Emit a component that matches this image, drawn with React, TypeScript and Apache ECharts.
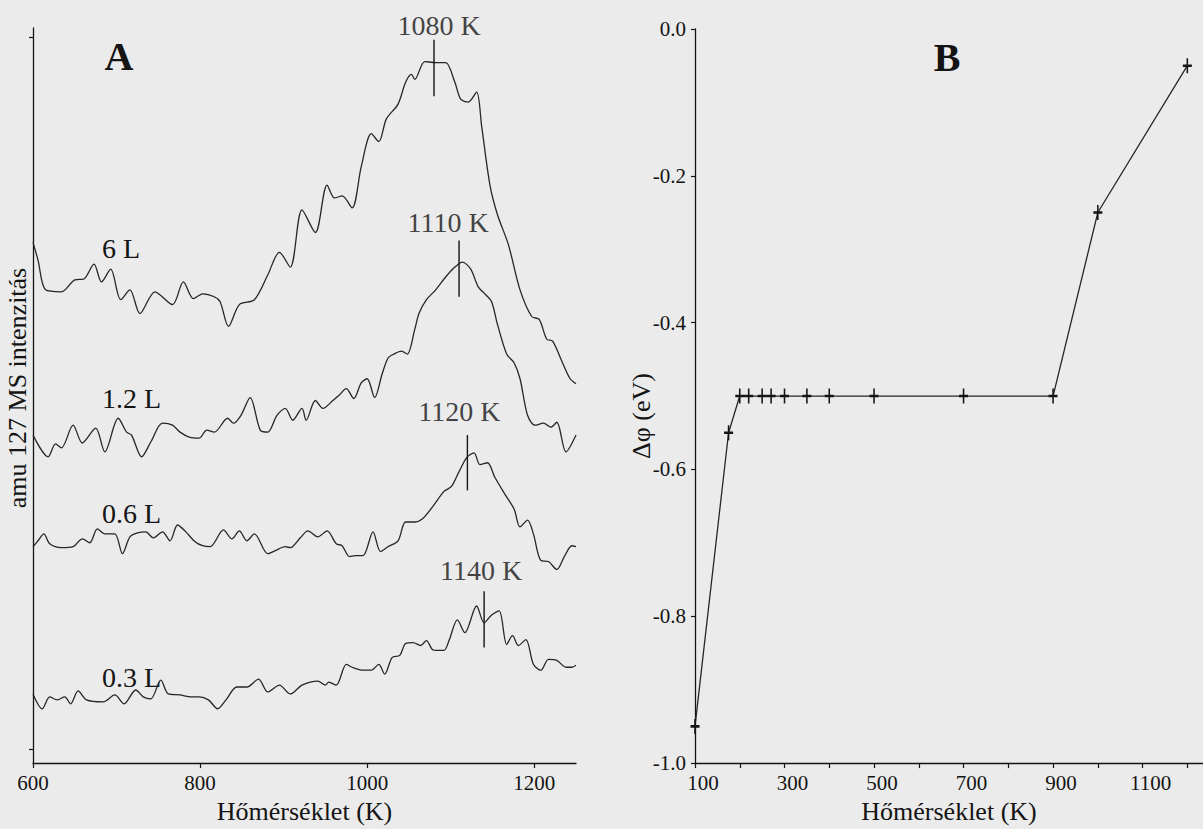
import React, { useEffect, useRef } from "react";
import * as echarts from "echarts";

// ---- Panel A: amu 127 TPD traces, [temperature (K), signal (arb. units, offset per dose)] ----
const trace6L: [number, number][] = [
  [600, 527], [606, 509], [615, 479], [634, 477], [650, 489], [661, 490], [673, 505], [682, 487],
  [693, 500], [705, 469], [716, 479], [728, 455], [746, 477], [767, 464], [780, 487], [792, 470],
  [803, 475], [817, 472], [824, 467], [834, 442], [847, 464], [865, 469], [881, 494], [895, 517],
  [908, 502], [922, 560], [938, 537], [952, 585], [961, 572], [970, 574], [982, 562], [993, 604],
  [1005, 637], [1014, 629], [1023, 652], [1037, 667], [1046, 689], [1053, 697], [1057, 692],
  [1069, 710], [1082, 709], [1094, 709], [1105, 689], [1112, 672], [1121, 669], [1131, 679],
  [1137, 645], [1147, 585], [1156, 555], [1169, 525], [1183, 479], [1197, 452], [1206, 449],
  [1215, 429], [1222, 427], [1234, 405], [1243, 389], [1250, 384],
];

const trace12L: [number, number][] = [
  [600, 332], [618, 310], [627, 323], [634, 319], [648, 342], [659, 324], [675, 339], [686, 315],
  [702, 349], [712, 335], [718, 332], [730, 310], [741, 325], [755, 344], [767, 342], [776, 335],
  [787, 330], [799, 329], [808, 337], [817, 335], [833, 349], [840, 344], [849, 352], [860, 370],
  [872, 337], [881, 335], [892, 352], [902, 359], [911, 347], [922, 359], [927, 347], [938, 367],
  [947, 359], [959, 367], [966, 372], [975, 379], [984, 369], [993, 385], [1000, 389], [1009, 370],
  [1018, 394], [1025, 410], [1032, 414], [1041, 417], [1048, 414], [1057, 439], [1062, 455],
  [1071, 469], [1082, 479], [1094, 492], [1105, 502], [1114, 507], [1124, 500], [1133, 482],
  [1142, 474], [1149, 467], [1156, 444], [1167, 414], [1176, 405], [1183, 389], [1192, 352],
  [1201, 342], [1211, 344], [1220, 340], [1227, 345], [1238, 315], [1250, 332],
];

const trace06L: [number, number][] = [
  [600, 219], [606, 225], [613, 232], [620, 222], [634, 218], [648, 219], [659, 227], [668, 223],
  [677, 237], [686, 232], [698, 232], [707, 212], [716, 229], [725, 233], [735, 234], [744, 228],
  [755, 234], [764, 225], [773, 241], [783, 234], [794, 224], [803, 220], [812, 219], [828, 236],
  [838, 227], [847, 235], [856, 225], [865, 232], [881, 212], [890, 215], [902, 219], [908, 218],
  [920, 228], [929, 235], [941, 229], [952, 235], [963, 222], [970, 220], [979, 209], [986, 210],
  [995, 210], [1007, 234], [1016, 214], [1025, 219], [1037, 225], [1046, 244], [1057, 244],
  [1066, 247], [1078, 259], [1092, 275], [1101, 280], [1110, 295], [1119, 309], [1128, 314],
  [1135, 302], [1144, 304], [1153, 289], [1165, 272], [1176, 257], [1183, 239], [1192, 246],
  [1199, 232], [1208, 205], [1217, 204], [1227, 196], [1236, 209], [1245, 220], [1250, 219],
];

const trace03L: [number, number][] = [
  [600, 70], [611, 55], [620, 67], [629, 64], [638, 67], [645, 60], [654, 73], [664, 64],
  [684, 62], [698, 69], [709, 60], [723, 74], [732, 67], [741, 65], [753, 84], [762, 70],
  [776, 69], [789, 67], [799, 67], [810, 64], [821, 55], [831, 64], [844, 77], [856, 77],
  [870, 85], [881, 72], [895, 79], [908, 70], [922, 79], [941, 83], [950, 79], [954, 82],
  [963, 79], [975, 100], [982, 97], [995, 94], [1005, 94], [1014, 100], [1021, 90], [1030, 107],
  [1039, 109], [1046, 121], [1055, 122], [1064, 119], [1071, 124], [1078, 115], [1085, 114],
  [1092, 114], [1098, 124], [1108, 145], [1117, 132], [1131, 159], [1140, 142], [1149, 150],
  [1158, 154], [1167, 120], [1174, 129], [1181, 119], [1190, 125], [1199, 100], [1208, 94],
  [1217, 105], [1227, 104], [1238, 97], [1245, 97], [1250, 99],
];

const doseLabels = ["6 L", "1.2 L", "0.6 L", "0.3 L"];
const peakTemps = [1080, 1110, 1120, 1140];
const peakTickLow = [675, 472, 276, 117];
const peakTickHigh = [732, 529, 332, 174];

const xTicksA = [600, 800, 1000, 1200];
const yTicksA = [14, 735];

// ---- Panel B: work function change vs. annealing temperature ----
const wfTemps = [100, 175, 200, 220, 250, 270, 300, 350, 400, 500, 700, 900, 1000, 1200];
const wfDelta = [-0.95, -0.55, -0.5, -0.5, -0.5, -0.5, -0.5, -0.5, -0.5, -0.5, -0.5, -0.5, -0.25, -0.05];

const xTicksB = [100, 200, 300, 400, 500, 600, 700, 800, 900, 1000, 1100, 1200];
const xLabelsB = [100, 300, 500, 700, 900, 1100];
const yTicksB = [-1.0, -0.8, -0.6, -0.4, -0.2, 0.0];

// ---- layout ----
const W = 1203;
const H = 829;
const FONT = '"Liberation Serif", "Times New Roman", Times, serif';
const INK = "#141414";
const TRACE = "#262626";
const doseLabelX = 102;
const doseLabelY = [248, 398, 513, 677];
const peakLabelOffset: [number, number][] = [[5, 0], [-11, -3], [-8, -9], [-3, -6]];

export default function App() {
  const ref = useRef<HTMLDivElement>(null);

  useEffect(() => {
    if (!ref.current) return;
    const chart = echarts.init(ref.current, undefined, { renderer: "svg" });

    const axisLine = { show: true, onZero: false, lineStyle: { color: INK, width: 1.3 } };
    const tickStyle = { color: INK, width: 1.2 };
    const tickLabel = { fontFamily: FONT, fontSize: 21, color: INK };
    const titleStyle = { fontFamily: FONT, fontSize: 26, color: INK };
    const plain = (v: number) => String(v);

    const traces = [trace6L, trace12L, trace06L, trace03L];

    const option: echarts.EChartsOption = {
      backgroundColor: "#ebebeb",
      animation: false,
      textStyle: { fontFamily: FONT, color: INK },
      grid: [
        { left: 33, top: 28, width: 543, height: 744 },
        { left: 695, top: 29, width: 508, height: 741 },
      ],
      xAxis: [
        {
          gridIndex: 0,
          type: "value",
          min: 600,
          max: 1250,
          axisLine,
          axisTick: { show: true, length: 5, lineStyle: tickStyle, customValues: xTicksA },
          axisLabel: { ...tickLabel, margin: 9, customValues: xTicksA, formatter: plain },
          splitLine: { show: false },
          name: "Hőmérséklet (K)",
          nameLocation: "middle",
          nameGap: 31,
          nameTextStyle: titleStyle,
        },
        {
          gridIndex: 1,
          type: "value",
          min: 100,
          max: 1235,
          axisLine,
          axisTick: { show: true, length: 5, lineStyle: tickStyle, customValues: xTicksB },
          axisLabel: { ...tickLabel, margin: 9, padding: [0, 0, 0, 16], customValues: xLabelsB, formatter: plain },
          splitLine: { show: false },
          name: "Hőmérséklet (K)",
          nameLocation: "middle",
          nameGap: 31,
          nameTextStyle: titleStyle,
        },
      ],
      yAxis: [
        {
          gridIndex: 0,
          type: "value",
          min: 0,
          max: 744,
          axisLine,
          axisTick: { show: true, length: 4, lineStyle: tickStyle, customValues: yTicksA },
          axisLabel: { show: false },
          splitLine: { show: false },
        },
        {
          gridIndex: 1,
          type: "value",
          min: -1,
          max: 0,
          axisLine,
          axisTick: { show: true, length: 4, lineStyle: tickStyle, customValues: yTicksB },
          axisLabel: {
            ...tickLabel,
            margin: 9,
            customValues: yTicksB,
            formatter: (v: number) => v.toFixed(1),
          },
          splitLine: { show: false },
        },
      ],
      graphic: [
        {
          type: "text",
          x: 119,
          y: 56,
          silent: true,
          style: { text: "A", font: `bold 40px ${FONT}`, fill: INK, align: "center", verticalAlign: "middle" },
        },
        {
          type: "text",
          x: 947,
          y: 57,
          silent: true,
          style: { text: "B", font: `bold 40px ${FONT}`, fill: INK, align: "center", verticalAlign: "middle" },
        },
        ...doseLabels.map((t, i) => ({
          type: "text" as const,
          x: doseLabelX,
          y: doseLabelY[i],
          silent: true,
          style: { text: t, font: `28px ${FONT}`, fill: INK, align: "left" as const, verticalAlign: "middle" as const },
        })),
        {
          type: "text",
          x: 17,
          y: 388,
          rotation: Math.PI / 2,
          silent: true,
          style: { text: "amu 127 MS intenzitás", font: `26px ${FONT}`, fill: INK, align: "center", verticalAlign: "middle" },
        },
        {
          type: "text",
          x: 641,
          y: 416,
          rotation: Math.PI / 2,
          silent: true,
          style: { text: "Δφ (eV)", font: `26px ${FONT}`, fill: INK, align: "center", verticalAlign: "middle" },
        },
      ],
      series: [
        ...traces.map((d, i) => ({
          type: "line" as const,
          name: doseLabels[i],
          xAxisIndex: 0,
          yAxisIndex: 0,
          data: d,
          symbol: "none",
          smooth: 0.3,
          silent: true,
          lineStyle: { color: TRACE, width: 1.3 },
        })),
        ...peakTemps.map((T, i) => ({
          type: "line" as const,
          xAxisIndex: 0,
          yAxisIndex: 0,
          data: [[T, peakTickLow[i]], [T, peakTickHigh[i]]],
          symbol: "none",
          silent: true,
          lineStyle: { color: INK, width: 1.4 },
        })),
        {
          type: "scatter",
          xAxisIndex: 0,
          yAxisIndex: 0,
          symbolSize: 1,
          silent: true,
          itemStyle: { color: "rgba(0,0,0,0)" },
          data: peakTemps.map((T, i) => ({
            value: [T, peakTickHigh[i]],
            label: { offset: peakLabelOffset[i] },
          })),
          label: {
            show: true,
            position: "top",
            distance: 0,
            fontFamily: FONT,
            fontSize: 28,
            color: INK,
            formatter: (p: any) => `${p.value[0]} K`,
          },
        },
        {
          type: "line",
          name: "Δφ",
          xAxisIndex: 1,
          yAxisIndex: 1,
          data: wfTemps.map((t, i) => [t, wfDelta[i]]),
          symbol: "path://M4 0 L4 14 M0 7 L8 7",
          symbolSize: [9, 15],
          silent: true,
          itemStyle: { color: "rgba(0,0,0,0)", borderColor: INK, borderWidth: 2 },
          lineStyle: { color: TRACE, width: 1.3 },
        },
      ],
    };

    chart.setOption(option);
    return () => chart.dispose();
  }, []);

  return (
    <div
      ref={ref}
      style={{ position: "absolute", left: 0, top: 0, width: W, height: H, background: "#ebebeb" }}
    />
  );
}
